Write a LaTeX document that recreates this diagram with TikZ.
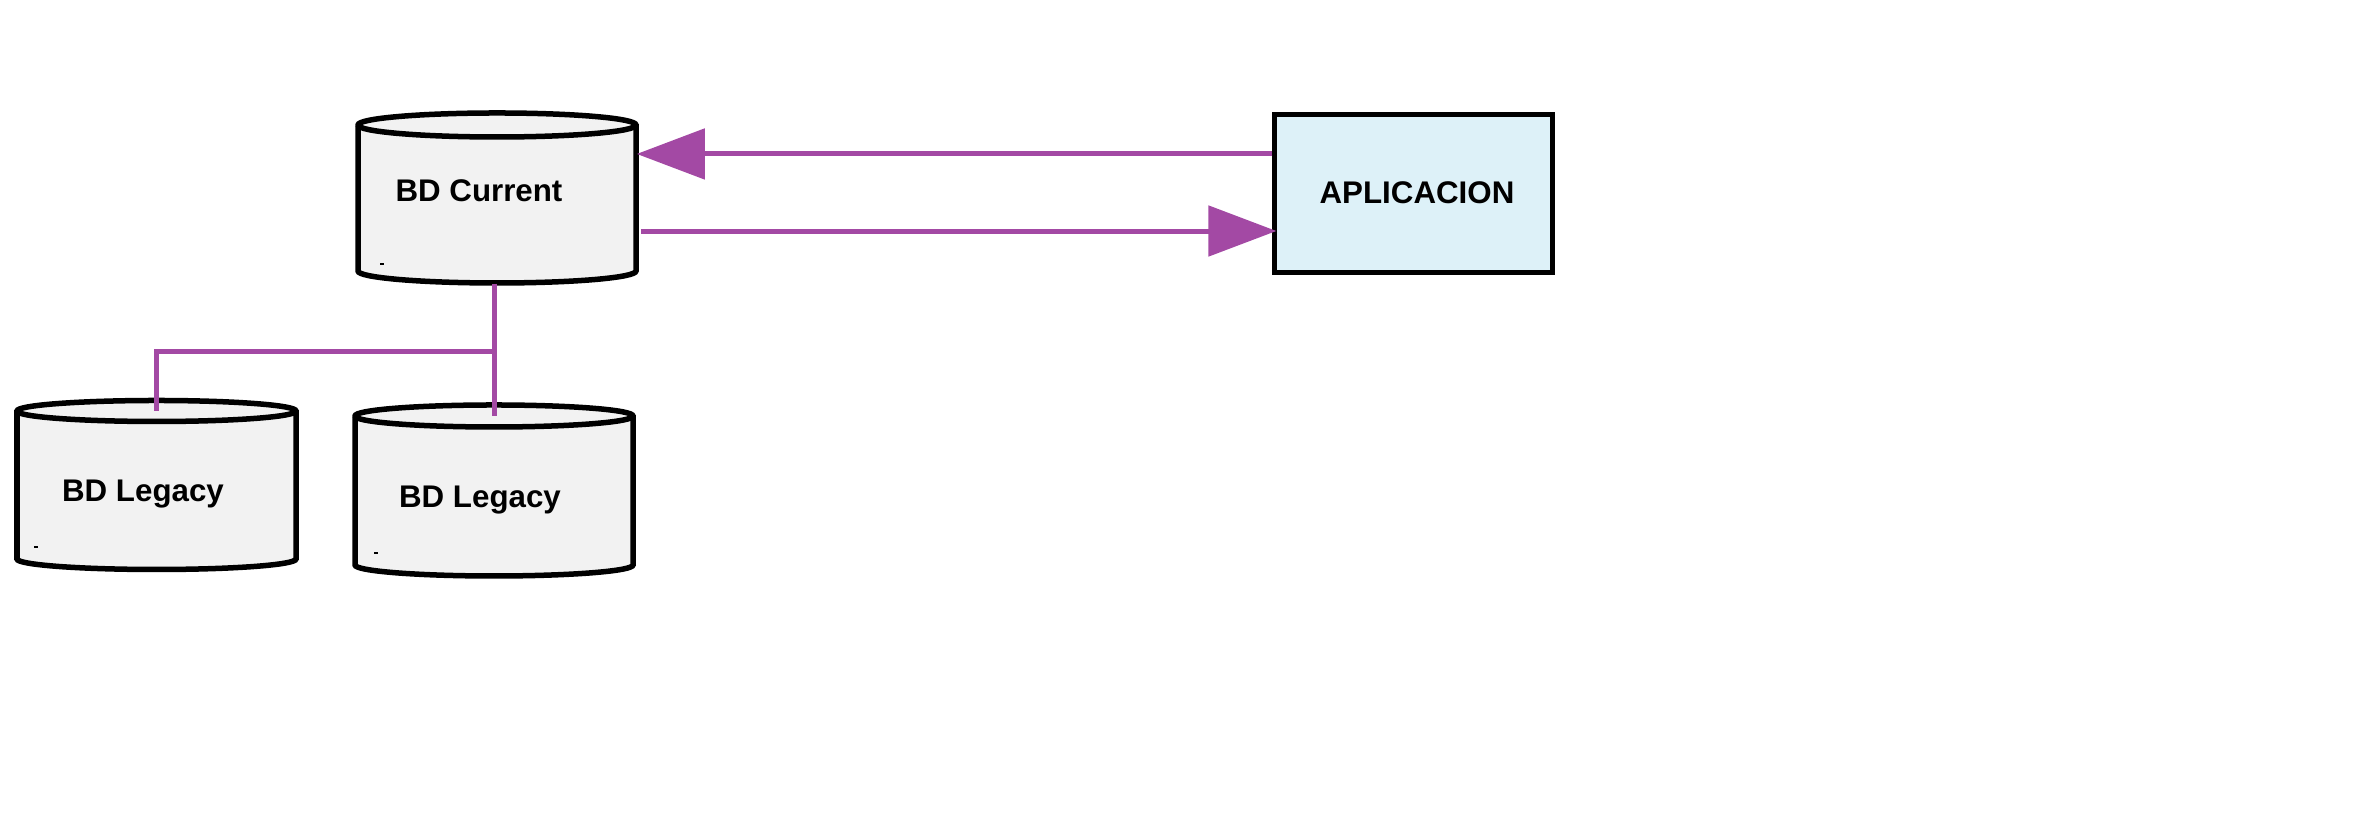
\documentclass[tikz,border=0pt]{standalone}
\usepackage{fontspec}
\setmainfont{Liberation Sans}
\usetikzlibrary{arrows.meta}
\definecolor{lnk}{HTML}{A349A4}
\definecolor{cylfill}{HTML}{F2F2F2}
\definecolor{appfill}{HTML}{DDF1F8}
\tikzset{
  cylline/.style={draw=black,line width=0.055cm,fill=cylfill},
  lbl/.style={font=\bfseries\fontsize{8.9}{10}\selectfont,inner sep=0pt,anchor=base},
  ghost/.style={rectangle,inner sep=0pt,draw=none},
  link/.style={draw=lnk,line width=0.05cm},
  arr/.style={link,-{Triangle[length=0.68cm,width=0.5cm]}},
  appbox/.style={rectangle,draw=black,line width=0.05cm,fill=appfill,inner sep=0pt,minimum width=2.77cm,minimum height=1.57cm}
}
\newcommand{\mycyl}[5]{% L R Ytop Ybot ry
  \pgfmathsetmacro{\rx}{(#2-#1)/2}
  \filldraw[cylline] (#1,#3) -- (#1,#4) arc[start angle=180,end angle=360,x radius=\rx,y radius=#5] -- (#2,#3) arc[start angle=0,end angle=180,x radius=\rx,y radius=#5] -- cycle;
  \draw[line width=0.055cm] (#1,#3) arc[start angle=180,end angle=360,x radius=\rx,y radius=#5];
}
\begin{document}
\begin{tikzpicture}[x=0.01cm,y=0.01cm]
\useasboundingbox (0,0) rectangle (2369,816);
% cylinders
\mycyl{358}{636}{691}{545}{12}
\mycyl{17}{296}{405}{257}{10.5}
\mycyl{355}{633}{400}{251}{11}
\draw[line width=0.02cm] (380,552) -- (384,552);
\draw[line width=0.02cm] (34,269) -- (38,269);
\draw[line width=0.02cm] (374,263) -- (378,263);
% named nodes
\node[ghost,minimum width=2.78cm,minimum height=1.70cm] (cur) at (497,618) {};
\node[ghost,minimum width=2.79cm,minimum height=1.70cm] (leg1) at (156.5,331) {};
\node[ghost,minimum width=2.78cm,minimum height=1.71cm] (leg2) at (494,325.5) {};
\coordinate (leg1top) at (156.5,405);
\coordinate (leg2top) at (494,400);
\coordinate (junc) at (494,464);
\node[appbox] (app) at (1413.5,622.5) {};
% labels
\node[lbl] (tcur) at (479,614) {BD Current};
\node[lbl] (tleg1) at (143,314) {BD Legacy};
\node[lbl] (tleg2) at (480,308) {BD Legacy};
\node[lbl] (tapp) at (1417,612) {APLICACION};
% connectors
\draw[arr] ([yshift=0.395cm]app.west) -- ([yshift=0.395cm]app.west -| cur.east);
\draw[arr] ([yshift=-0.375cm,xshift=0.04cm]app.west -| cur.east) -- ([yshift=-0.375cm,xshift=0.04cm]app.west);
\draw[link] (cur.south -| leg2top) -- (leg2top);
\draw[link] (junc) -| (leg1top);
\end{tikzpicture}
\end{document}
